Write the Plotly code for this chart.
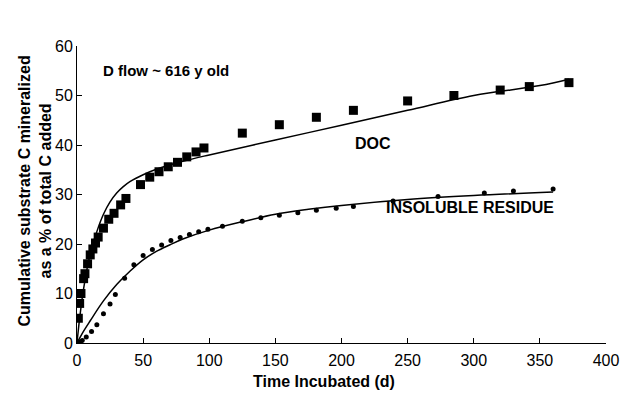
import plotly.graph_objects as go

# DOC observations (squares)
doc_t = [1, 2, 3, 5, 6, 8, 10, 12, 14, 16, 20, 24, 28, 33, 37, 48, 55, 62, 69, 76,
         83, 90, 96, 125, 153, 181, 209, 250, 285, 320, 342, 372]
doc_y = [5, 8, 10, 13, 14, 16, 17.8, 19, 20.2, 21.4, 23.2, 25, 26.2, 27.9, 29.2, 32,
         33.5, 34.6, 35.6, 36.5, 37.6, 38.6, 39.4, 42.4, 44.1, 45.6, 47.0, 48.9,
         50.0, 51.1, 51.8, 52.6]

# DOC fitted curve
doc_fit_t = [0, 2, 5, 10, 15, 20, 25, 30, 35, 40, 50, 60, 80, 100, 150, 200, 250, 300, 350, 372]
doc_fit_y = [0, 5, 11, 18, 22.5, 26, 28.5, 30.3, 31.6, 32.6, 34, 35.1, 36.7, 38, 41, 44, 47,
             50, 52, 53.3]

# Insoluble residue observations (dots)
ins_t = [0, 2, 4, 7, 11, 15, 20, 25, 29, 36, 43, 50, 57, 64, 71, 78, 85, 92, 99, 110,
         125, 139, 153, 167, 181, 196, 209, 239, 273, 308, 330, 360]
ins_y = [0, 0.2, 0.5, 1.2, 2.3, 3.7, 5.9, 7.9, 9.8, 13.1, 15.8, 17.7, 18.9, 19.8, 20.7,
         21.3, 21.9, 22.5, 23.0, 23.6, 24.6, 25.3, 25.8, 26.3, 26.8, 27.2, 27.6, 28.7,
         29.6, 30.3, 30.7, 31.1]

# Insoluble residue fitted curve
ins_fit_t = [0, 5, 10, 20, 30, 40, 50, 60, 70, 80, 100, 125, 150, 175, 200, 250, 300, 360]
ins_fit_y = [0, 2.4, 4.5, 8.5, 11.8, 14.5, 16.8, 18.5, 19.8, 21, 22.8, 24.5, 26, 27,
             27.8, 29, 29.8, 30.5]

x_ticks = [0, 50, 100, 150, 200, 250, 300, 350, 400]
y_ticks = [0, 10, 20, 30, 40, 50, 60]

fig = go.Figure()
fig.add_trace(go.Scatter(x=doc_fit_t, y=doc_fit_y, mode="lines", line=dict(color="black", width=1.5, shape="spline"), showlegend=False))
fig.add_trace(go.Scatter(x=ins_fit_t, y=ins_fit_y, mode="lines", line=dict(color="black", width=1.5, shape="spline"), showlegend=False))
fig.add_trace(go.Scatter(x=doc_t, y=doc_y, mode="markers", marker=dict(symbol="square", size=9, color="black"), showlegend=False))
fig.add_trace(go.Scatter(x=ins_t, y=ins_y, mode="markers", marker=dict(symbol="circle", size=5, color="black"), showlegend=False))

font_family = "Liberation Sans, Arial, sans-serif"
fig.add_annotation(x=18, y=55, xanchor="left", yanchor="middle", text="<b>D flow ~ 616 y old</b>", showarrow=False, font=dict(size=15, family=font_family, color="black"))
fig.add_annotation(x=224, y=40.4, xanchor="center", yanchor="middle", text="<b>DOC</b>", showarrow=False, font=dict(size=16, family=font_family, color="black"))
fig.add_annotation(x=297, y=27.3, xanchor="center", yanchor="middle", text="<b>INSOLUBLE RESIDUE</b>", showarrow=False, font=dict(size=16, family=font_family, color="black"))

# axis titles as annotations for precise placement
fig.add_annotation(xref="paper", yref="paper", x=0, y=0.51, xanchor="center", yanchor="middle",
                   xshift=-42, textangle=-90, showarrow=False, align="center",
                   text="<b>Cumulative substrate C mineralized<br>as a % of total C added</b>",
                   font=dict(size=16, family=font_family, color="black"))
fig.add_annotation(xref="paper", yref="paper", x=0.467, y=0, xanchor="center", yanchor="middle",
                   yshift=-38, showarrow=False, text="<b>Time Incubated (d)</b>",
                   font=dict(size=16, family=font_family, color="black"))

fig.update_layout(
    width=629, height=391,
    margin=dict(l=69, r=31, t=38, b=56),
    plot_bgcolor="white", paper_bgcolor="white",
    font=dict(family=font_family, size=16, color="black"),
    xaxis=dict(range=[0, 400], tickvals=x_ticks, ticks="inside", ticklen=5, tickcolor="black",
               showline=True, linecolor="black", linewidth=1, showgrid=False, zeroline=False,
               automargin=False, ticklabelstandoff=3, tickfont=dict(size=16)),
    yaxis=dict(range=[0, 60], tickvals=y_ticks, ticks="inside", ticklen=5, tickcolor="black",
               showline=True, linecolor="black", linewidth=1, showgrid=False, zeroline=False,
               automargin=False, tickfont=dict(size=16)),
)

fig.write_html("out.html")
